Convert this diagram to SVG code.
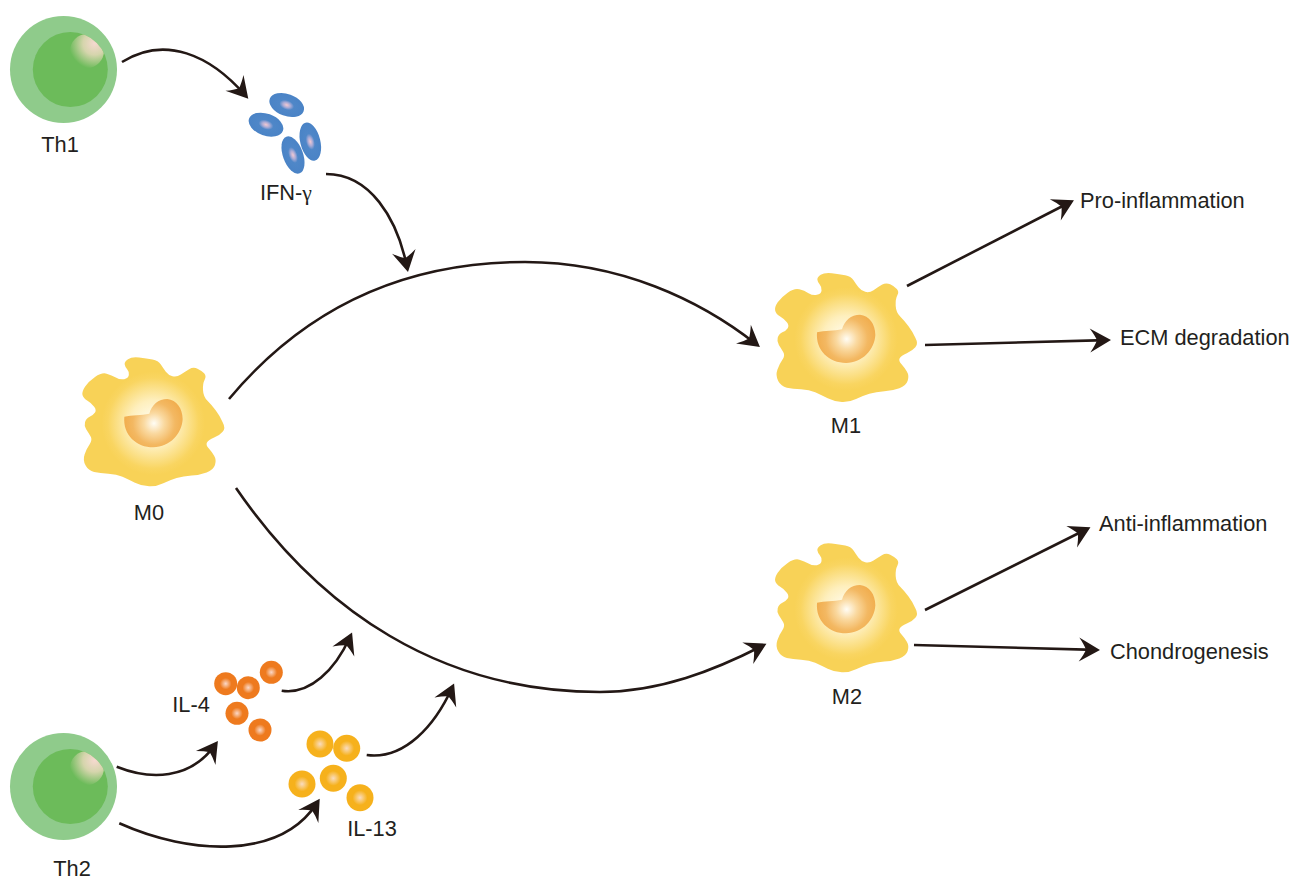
<svg xmlns="http://www.w3.org/2000/svg" width="1290" height="878" viewBox="0 0 1290 878">
<style>
text{font-family:"Liberation Sans",Arial,sans-serif;font-size:21.800px;fill:#231f20}
.m{text-anchor:middle}
.wire{fill:none;stroke:#231815;stroke-width:2.600;stroke-linecap:butt;marker-end:url(#head)}
.ifn{fill:url(#ifnFill)}
.il4{fill:url(#il4Fill)}
.il13{fill:url(#il13Fill)}
</style>
<defs>
<marker id="head" markerUnits="userSpaceOnUse" markerWidth="40" markerHeight="40" refX="25" refY="20" orient="auto" overflow="visible">
<path d="M30,20 L9,8 Q14,15 16,20 Q14,25 9,32 Z" fill="#231815"/>
</marker>
<radialGradient id="bodyFill" gradientUnits="userSpaceOnUse" cx="280" cy="250" r="155">
<stop offset="0" stop-color="#fffef5"/><stop offset=".45" stop-color="#feefbd"/><stop offset=".88" stop-color="#f9d561"/><stop offset="1" stop-color="#f8d257"/>
</radialGradient>
<radialGradient id="nucFill" gradientUnits="userSpaceOnUse" cx="282" cy="250" r="88">
<stop offset="0" stop-color="#fffdf5"/><stop offset=".35" stop-color="#fad9a0"/><stop offset=".72" stop-color="#f3b862"/><stop offset="1" stop-color="#f1ae4f"/>
</radialGradient>
<radialGradient id="shine" cx=".72" cy=".28" r=".75"><stop offset="0" stop-color="#f6d9d0"/><stop offset=".45" stop-color="#d5d5ac"/><stop offset="1" stop-color="#6cbb5a"/></radialGradient>
<radialGradient id="ifnFill"><stop offset="0" stop-color="#f2c9d2"/><stop offset=".22" stop-color="#a9abd6"/><stop offset=".42" stop-color="#4f87c8"/><stop offset="1" stop-color="#4a83c6"/></radialGradient>
<radialGradient id="il4Fill"><stop offset="0" stop-color="#fbd8c8"/><stop offset=".3" stop-color="#f3a163"/><stop offset=".5" stop-color="#ee7a1e"/><stop offset="1" stop-color="#ee7a1e"/></radialGradient>
<radialGradient id="il13Fill"><stop offset="0" stop-color="#fadcc0"/><stop offset=".3" stop-color="#f8c565"/><stop offset=".55" stop-color="#f6b11c"/><stop offset="1" stop-color="#f6b11c"/></radialGradient>
<g id="macrophage" transform="translate(60,340) scale(.3333)">
<path fill="url(#bodyFill)" d="M204,57.500 Q215,50 237.500,52.500 Q260,55 277.500,58.500 Q295,62 302.500,73.500 Q310,85 317.500,95 Q325,105 337.500,108.500 Q350,112 362.500,103.500 Q375,95 387.500,87.500 Q400,80 412.500,86 Q425,92 432.500,100 Q440,108 434,119 Q428,130 429,150 Q430,170 442.500,182.500 Q455,195 467.500,211.500 Q480,228 488,246.500 Q498,265 488,275 Q480,285 462.500,292.500 Q445,300 441,307.500 Q437,315 446,325 Q455,335 462.500,347.500 Q470,360 465,375 Q460,390 440,397.500 Q420,405 395,406.500 Q370,408 350,414 Q330,420 310,430 Q290,440 267.500,439 Q245,438 225,428 Q205,418 187.500,410 Q170,402 145,401 Q120,400 102.500,396 Q85,392 76.500,376 Q68,360 74,342.500 Q80,325 89,312.500 Q98,300 91.500,289 Q85,278 78.500,268 Q72,258 75,246.500 Q78,235 89,230 Q100,225 105,217.500 Q110,210 102.500,200 Q95,190 82.500,182.500 Q70,175 67.500,165 Q65,155 75,140 Q85,125 105,111 Q125,97 140,101 Q155,105 167.500,112.500 Q180,120 192.500,117.500 Q205,115 206.500,105 Q208,95 201.500,87.500 Q195,80 194,72.500 Q193,65 204,57.500 Z"/>
<path fill="url(#nucFill)" d="M193,230 C215,225 245,226 268,221 C275,195 295,177 322,177 C350,180 368,205 368,238 C366,280 330,322 280,322 C230,322 188,285 193,230 Z"/>
</g>
<g id="lymphocyte">
<circle cx="63.500" cy="69.500" r="53.500" fill="#8fcb8b"/>
<circle cx="70.300" cy="69.500" r="37.500" fill="#6cbb5a"/>
<clipPath id="innerClip"><circle cx="70.300" cy="69.500" r="37.500"/></clipPath>
<circle cx="87" cy="51" r="17" fill="url(#shine)" clip-path="url(#innerClip)"/>
</g>
</defs>

<g id="connectors">
<path class="wire" d="M122,62 C165,35 210,55 245,95"/>
<path class="wire" d="M326,174 C370,174 397,218 407,267"/>
<path class="wire" d="M229,399 C320,290 430,262 525,262 C620,262 700,300 756,344"/>
<path class="wire" d="M236,488 C320,610 440,692 600,692 C660,692 715,670 762,646"/>
<path class="wire" d="M907,286 L1069.500,202.500"/>
<path class="wire" d="M925,345 L1106,340.100"/>
<path class="wire" d="M925,610 L1086,529.500"/>
<path class="wire" d="M914,645 L1095,649.900"/>
<path class="wire" d="M116.700,766.700 C150,780 190,780 215,745"/>
<path class="wire" d="M119.300,823.300 C190,855 280,860 317,803"/>
<path class="wire" d="M281.700,690.700 C310,695 335,670 350,637"/>
<path class="wire" d="M366.700,755 C405,760 435,725 452,688"/>
</g>

<g id="th1"><use href="#lymphocyte"/><text class="m" x="60" y="151.500">Th1</text></g>
<g id="ifn-gamma">
<ellipse class="ifn" cx="286.700" cy="105" rx="18" ry="11" transform="rotate(20 286.700 105)"/>
<ellipse class="ifn" cx="266" cy="124.700" rx="18" ry="11" transform="rotate(20 266 124.700)"/>
<ellipse class="ifn" cx="310.300" cy="141.700" rx="19.500" ry="10" transform="rotate(76 310.300 141.700)"/>
<ellipse class="ifn" cx="293" cy="155" rx="19.500" ry="10" transform="rotate(70 293 155)"/>
<text class="m" x="286" y="200">IFN-<tspan font-family="'Liberation Serif',serif">γ</tspan></text>
</g>
<g id="m0"><use href="#macrophage"/><text class="m" x="149" y="519.500">M0</text></g>
<g id="m1"><use href="#macrophage" transform="translate(692.700,-84.300)"/><text class="m" x="846" y="432.500">M1</text></g>
<g id="m2"><use href="#macrophage" transform="translate(692.700,186)"/><text class="m" x="847" y="703.500">M2</text></g>
<g id="th2"><use href="#lymphocyte" transform="translate(0,717)"/><text class="m" x="72" y="875.500">Th2</text></g>
<g id="il-4">
<circle class="il4" cx="225.700" cy="683.700" r="11.500"/>
<circle class="il4" cx="248.300" cy="687.700" r="11.500"/>
<circle class="il4" cx="271.300" cy="672.300" r="11.500"/>
<circle class="il4" cx="237" cy="713.300" r="11.500"/>
<circle class="il4" cx="260" cy="730" r="11.500"/>
<text class="m" x="191" y="711.500">IL-4</text>
</g>
<g id="il-13">
<circle class="il13" cx="320" cy="744" r="13.500"/>
<circle class="il13" cx="346.700" cy="748.300" r="13.500"/>
<circle class="il13" cx="302" cy="784" r="13.500"/>
<circle class="il13" cx="333.300" cy="778.300" r="13.500"/>
<circle class="il13" cx="360" cy="797.700" r="13.500"/>
<text class="m" x="372" y="835.500">IL-13</text>
</g>
<g id="pro-inflammation"><text x="1080" y="208">Pro-inflammation</text></g>
<g id="ecm-degradation"><text x="1120" y="345">ECM degradation</text></g>
<g id="anti-inflammation"><text x="1099" y="531">Anti-inflammation</text></g>
<g id="chondrogenesis"><text x="1110" y="659">Chondrogenesis</text></g>
</svg>
